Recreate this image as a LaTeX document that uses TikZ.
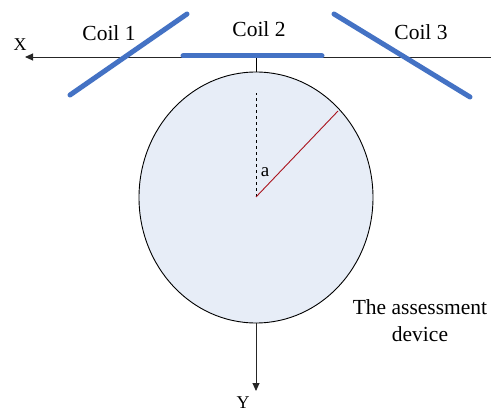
\documentclass[tikz,border=0pt]{standalone}
\usepackage{fontspec}
\setmainfont{Liberation Serif}
\usetikzlibrary{arrows.meta,shapes.geometric}
\definecolor{coilblue}{RGB}{68,114,196}
\definecolor{devfill}{RGB}{231,237,247}
\definecolor{radred}{RGB}{170,20,30}
\begin{document}
\begin{tikzpicture}[x=1pt,y=-1pt,
  axis/.style={line width=0.9pt,draw=black!85,-{Triangle[length=8pt,width=7pt]}},
  coil/.style={line width=5pt,draw=coilblue,line cap=round},
  coillabel/.style={font=\fontsize{21.5}{26}\selectfont,inner sep=0pt},
  axislabel/.style={font=\fontsize{18}{20}\selectfont,inner sep=0pt}]
\useasboundingbox (0,0) rectangle (491,412);
% device
\node[ellipse,draw=black,line width=0.9pt,fill=devfill,minimum width=234pt,minimum height=251pt,inner sep=0pt] (dev) at (256,197.5) {};
\coordinate (c) at (256,197);
% X axis
\coordinate (xr) at (491,57);
\coordinate (xl) at (25,57);
\draw[axis] (xr) -- (xl);
\node[axislabel] (xlab) at (20,45) {X};
% Y axis
\coordinate (ytip) at (256,391);
\draw[axis] (dev.south) -- (ytip);
\node[axislabel] (ylab) at (243,402.5) {Y};
% connector from axis to device top
\coordinate (top) at (256,57);
\draw[line width=0.9pt] (top) -- (dev.north);
% coils
\coordinate (c1a) at (70,95);
\coordinate (c1b) at (187,14);
\coordinate (c2a) at (183,56);
\coordinate (c2b) at (322,56);
\coordinate (c3a) at (334,14);
\coordinate (c3b) at (470,97);
\draw[coil] (c1a) -- (c1b);
\draw[coil] (c2a) -- (c2b);
\draw[coil] (c3a) -- (c3b);
\node[coillabel] (l1) at (109,33) {Coil 1};
\node[coillabel] (l2) at (259,29) {Coil 2};
\node[coillabel] (l3) at (421,32) {Coil 3};
% angle
\coordinate (dtop) at (256,93);
\coordinate (rim) at (338,111);
\draw[dashed,line width=0.8pt] (c) -- (dtop);
\draw[radred,line width=0.9pt] (c) -- (rim);
\node[axislabel,font=\fontsize{19}{20}\selectfont] (alab) at (265,172) {a};
% label
\node[coillabel,align=center,font=\fontsize{21.5}{27}\selectfont] (devlab) at (420,321) {The assessment\\device};
\end{tikzpicture}
\end{document}
